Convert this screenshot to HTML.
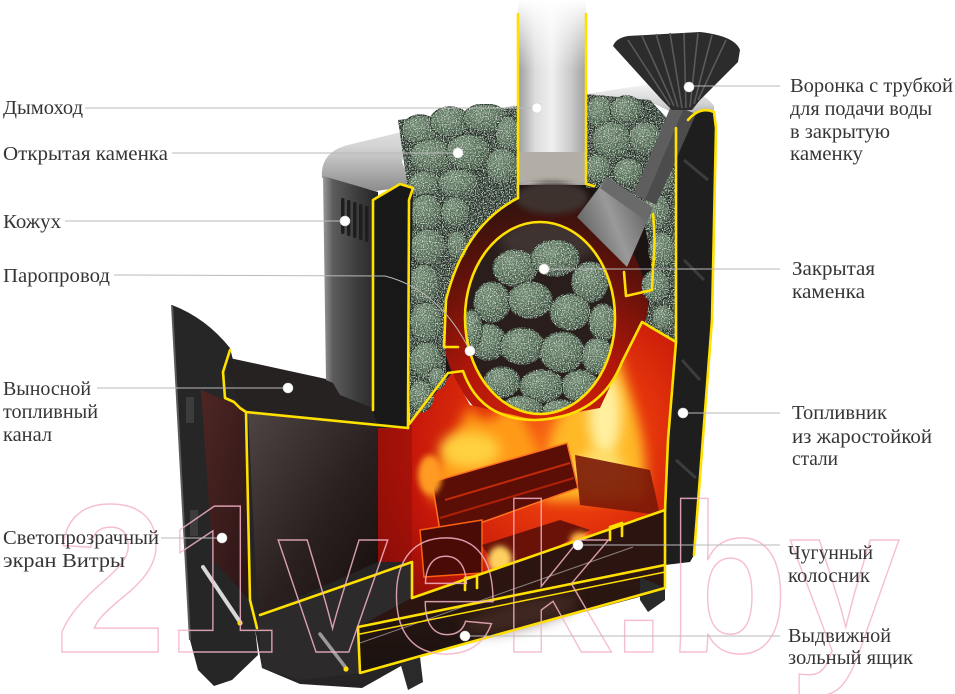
<!DOCTYPE html>
<html><head><meta charset="utf-8">
<style>
html,body{margin:0;padding:0;background:#fff;width:955px;height:694px;overflow:hidden;}
svg{display:block;}
.t{font-family:"Liberation Serif","DejaVu Serif",serif;font-size:20px;fill:#353535;}
.l{stroke:#b9b9b9;stroke-width:1;fill:none;}
.d{fill:#fff;stroke:#d0d0d0;stroke-width:0.6;}
.y{fill:none;stroke:#ffe000;stroke-width:2.6;stroke-linejoin:round;stroke-linecap:round;}
.s{fill:url(#sg);stroke:#223024;stroke-width:1.4;}
</style></head><body>
<svg width="955" height="694" viewBox="0 0 955 694" xmlns="http://www.w3.org/2000/svg">
<defs>
<linearGradient id="pipe" x1="0" x2="1" y1="0" y2="0">
<stop offset="0" stop-color="#9c9c9c"/><stop offset="0.25" stop-color="#dcdcdc"/><stop offset="0.5" stop-color="#f0f0f0"/><stop offset="0.78" stop-color="#cacaca"/><stop offset="1" stop-color="#a0a0a0"/>
</linearGradient>
<linearGradient id="fade" x1="0" x2="0" y1="0" y2="1">
<stop offset="0" stop-color="#fff" stop-opacity="1"/><stop offset="1" stop-color="#fff" stop-opacity="0"/>
</linearGradient>
<linearGradient id="lid" x1="0" y1="0" x2="0" y2="1">
<stop offset="0" stop-color="#f4f4f4"/><stop offset="0.5" stop-color="#d2d2d2"/><stop offset="1" stop-color="#8c8c8c"/>
</linearGradient>
<linearGradient id="shroud" x1="0" x2="1" y1="0" y2="0">
<stop offset="0" stop-color="#9a9a9a"/><stop offset="0.18" stop-color="#5c5c5c"/><stop offset="0.6" stop-color="#3e3e3e"/><stop offset="1" stop-color="#262626"/>
</linearGradient>
<radialGradient id="fire" cx="570" cy="440" r="250" gradientUnits="userSpaceOnUse">
<stop offset="0" stop-color="#ff7a18"/><stop offset="0.3" stop-color="#e8380c"/><stop offset="0.65" stop-color="#c4160a"/><stop offset="1" stop-color="#7a0a06"/>
</radialGradient>
<radialGradient id="arch" cx="545" cy="430" r="240" gradientUnits="userSpaceOnUse">
<stop offset="0" stop-color="#d8260c"/><stop offset="0.4" stop-color="#b0160a"/><stop offset="0.75" stop-color="#5a120a"/><stop offset="1" stop-color="#2a1410"/>
</radialGradient>
<linearGradient id="chan" x1="0" y1="0" x2="1" y2="1">
<stop offset="0" stop-color="#4e4444"/><stop offset="0.55" stop-color="#2a2020"/><stop offset="1" stop-color="#160c0a"/>
</linearGradient>
<linearGradient id="glass" x1="0" y1="0" x2="1" y2="1">
<stop offset="0" stop-color="#4e2624"/><stop offset="1" stop-color="#2a1414"/>
</linearGradient>
<linearGradient id="cyl" x1="577" y1="240" x2="653" y2="210" gradientUnits="userSpaceOnUse">
<stop offset="0" stop-color="#5a5a5a"/><stop offset="0.5" stop-color="#9a9a9a"/><stop offset="1" stop-color="#5e5e5e"/>
</linearGradient>
<linearGradient id="ash" x1="0" y1="0" x2="0" y2="1">
<stop offset="0" stop-color="#3a1a12"/><stop offset="1" stop-color="#1a1210"/>
</linearGradient>
<radialGradient id="sg" cx="0.38" cy="0.32" r="0.75">
<stop offset="0" stop-color="#6e886f"/><stop offset="0.6" stop-color="#4c664e"/><stop offset="1" stop-color="#2e4232"/>
</radialGradient>
<filter id="speck" x="0" y="0" width="100%" height="100%">
<feTurbulence type="fractalNoise" baseFrequency="0.85" numOctaves="2" seed="4" result="n"/>
<feColorMatrix in="n" type="matrix" values="0 0 0 0 0.8  0 0 0 0 0.87  0 0 0 0 0.8  0 0 0 3.2 -1.55" result="s"/>
<feComposite in="s" in2="SourceGraphic" operator="in" result="sp"/>
<feMerge><feMergeNode in="SourceGraphic"/><feMergeNode in="sp"/></feMerge>
</filter>
<filter id="b3" x="-50%" y="-50%" width="200%" height="200%"><feGaussianBlur stdDeviation="3"/></filter>
<filter id="b6" x="-50%" y="-50%" width="200%" height="200%"><feGaussianBlur stdDeviation="6"/></filter>
<clipPath id="inner"><ellipse cx="540" cy="318" rx="75" ry="96"/></clipPath>
<clipPath id="fb"><polygon points="378,425 410,425 452,373 470,405 535,420 600,408 640,323 676,342 668,440 665,510 412,598 412,562 378,562"/></clipPath>
</defs>

<!-- DOOR -->
<path d="M172,305 Q206,318 230,348 L246,412 L252,600 L258,655 L232,680 L214,686 L198,670 L190,640 Z" fill="#262626"/>
<path d="M172,305 L190,640" stroke="#5a5a5a" stroke-width="2" fill="none"/>
<polygon points="201,390 243,408 252,603 213,560" fill="url(#glass)"/>
<rect x="186" y="397" width="8" height="26" fill="#3c3c3c"/>
<rect x="190" y="510" width="8" height="26" fill="#3c3c3c"/>

<!-- LOWER BACKING -->
<polygon points="246,410 412,428 412,600 665,510 665,588 417,657 362,688 300,684 262,668 250,600" fill="#262424"/>

<!-- CHANNEL -->
<polygon points="225,357 340,382 377,395 377,410 408,428 246,412 238,400 228,372" fill="#262222"/>
<polygon points="248,413 378,427 378,562 258,615" fill="url(#chan)"/>
<polygon points="258,615 412,562 412,598 358,627 360,673 300,680 262,668" fill="#2c2a2a"/>

<!-- ASH BOX -->
<polygon points="358,627 412,598 665,510 665,590 417,657 360,673" fill="url(#ash)"/>
<polygon points="412,598 665,510 665,565 358,627" fill="#2c1510"/>
<ellipse cx="520" cy="615" rx="60" ry="14" fill="#5a3a30" opacity="0.5" filter="url(#b6)" transform="rotate(-14 520 615)"/>
<line x1="360" y1="643" x2="633" y2="547" stroke="#8a8080" stroke-width="1"/>
<!-- legs -->
<polygon points="640,577 665,588 665,600 648,612 640,600" fill="#2a2a2a"/>
<polygon points="400,662 420,657 423,682 408,690" fill="#2a2a2a"/>

<!-- HEATER BACK -->
<polygon points="408,185 520,150 586,150 676,125 676,342 640,323 452,373 410,425" fill="#1c1412"/>

<!-- RED -->
<ellipse cx="545" cy="318" rx="104" ry="122" fill="url(#arch)"/>
<polygon points="378,425 410,425 452,373 470,405 535,420 600,408 640,323 676,342 668,440 665,510 412,598 412,562 378,562" fill="url(#fire)"/>
<polygon points="378,425 412,425 412,562 378,562" fill="#8a0e08" opacity="0.5"/>

<!-- FIRE -->
<g clip-path="url(#fb)">
<path d="M430,500 C432,460 455,440 470,405 C480,430 500,420 515,395 C525,430 545,445 548,495 Z" fill="#ff9a18" filter="url(#b6)"/>
<path d="M545,500 C540,440 565,410 585,360 C592,395 605,380 618,350 C628,400 650,430 645,500 Z" fill="#ffb828" filter="url(#b6)"/>
<ellipse cx="605" cy="415" rx="16" ry="42" fill="#fff0a0" filter="url(#b6)"/>
<ellipse cx="470" cy="450" rx="30" ry="18" fill="#ffd040" filter="url(#b6)"/>
<ellipse cx="600" cy="470" rx="24" ry="20" fill="#ffe070" filter="url(#b6)"/>
<polygon points="432,482 567,443 578,488 441,537" fill="#5a0e06" stroke="#ff7020" stroke-width="1.5"/>
<line x1="445" y1="500" x2="570" y2="463" stroke="#c02a0a" stroke-width="2"/>
<line x1="440" y1="518" x2="574" y2="478" stroke="#b02008" stroke-width="2"/>
<polygon points="420,530 482,520 482,573 424,577" fill="#4a0a05" stroke="#ff6010" stroke-width="1.5"/>
<polygon points="575,455 650,470 660,515 580,505" fill="#7a1808" opacity="0.9"/>
<polygon points="482,545 560,520 590,530 500,575" fill="#6a1208"/>
<ellipse cx="500" cy="560" rx="12" ry="14" fill="#ffd060" filter="url(#b3)"/>
<ellipse cx="580" cy="540" rx="10" ry="8" fill="#ffb040" filter="url(#b3)"/>
<ellipse cx="430" cy="475" rx="12" ry="20" fill="#ff9a20" filter="url(#b3)"/>
</g>

<!-- LIDS -->
<path d="M322,178 Q320,152 348,145 L518,104 L518,120 L430,136 Q404,144 402,162 L412,186 L376,191 Z" fill="url(#lid)"/>
<path d="M586,94 L650,84 Q700,86 714,106 L714,124 L690,121 L655,104 L586,110 Z" fill="url(#lid)"/>

<!-- STONES: top-left pile + left column -->
<g filter="url(#speck)">
<path d="M398,120 L518,106 L518,198 Q462,228 446,300 L446,372 L410,423 L408,190 Z" fill="#243226"/>
<ellipse class="s" cx="420" cy="130" rx="18" ry="15"/>
<ellipse class="s" cx="450" cy="122" rx="20" ry="15"/>
<ellipse class="s" cx="485" cy="118" rx="22" ry="14"/>
<ellipse class="s" cx="508" cy="134" rx="12" ry="18"/>
<ellipse class="s" cx="432" cy="156" rx="22" ry="17"/>
<ellipse class="s" cx="468" cy="152" rx="22" ry="18"/>
<ellipse class="s" cx="502" cy="166" rx="16" ry="18"/>
<ellipse class="s" cx="424" cy="184" rx="16" ry="13"/>
<ellipse class="s" cx="458" cy="183" rx="20" ry="14"/>
<ellipse class="s" cx="426" cy="212" rx="16" ry="18"/>
<ellipse class="s" cx="455" cy="212" rx="14" ry="15"/>
<ellipse class="s" cx="428" cy="247" rx="18" ry="18"/>
<ellipse class="s" cx="457" cy="245" rx="10" ry="14"/>
<ellipse class="s" cx="424" cy="284" rx="15" ry="20"/>
<ellipse class="s" cx="426" cy="322" rx="16" ry="20"/>
<ellipse class="s" cx="426" cy="360" rx="16" ry="18"/>
<ellipse class="s" cx="421" cy="396" rx="12" ry="16"/>
<ellipse class="s" cx="437" cy="378" rx="9" ry="11"/>
</g>
<!-- right pile + column -->
<g filter="url(#speck)">
<path d="M586,94 L650,100 L676,128 L676,342 L645,322 Q654,290 650,250 L640,205 L600,188 L586,188 Z" fill="#243226"/>
<ellipse class="s" cx="600" cy="112" rx="14" ry="16"/>
<ellipse class="s" cx="626" cy="110" rx="16" ry="14"/>
<ellipse class="s" cx="612" cy="140" rx="20" ry="18"/>
<ellipse class="s" cx="645" cy="138" rx="16" ry="16"/>
<ellipse class="s" cx="598" cy="168" rx="13" ry="14"/>
<ellipse class="s" cx="628" cy="172" rx="15" ry="14"/>
<ellipse class="s" cx="660" cy="178" rx="14" ry="16"/>
<ellipse class="s" cx="656" cy="212" rx="14" ry="18"/>
<ellipse class="s" cx="662" cy="250" rx="13" ry="18"/>
<ellipse class="s" cx="656" cy="286" rx="14" ry="16"/>
<ellipse class="s" cx="663" cy="318" rx="11" ry="13"/>
</g>

<!-- INNER CLOSED HEATER -->
<ellipse cx="540" cy="318" rx="75" ry="96" fill="#2a1e1c"/>
<g clip-path="url(#inner)">
<ellipse cx="550" cy="240" rx="50" ry="22" fill="#4a3c3a" opacity="0.7" filter="url(#b6)"/>
<g filter="url(#speck)">
<ellipse class="s" cx="515" cy="268" rx="22" ry="18"/>
<ellipse class="s" cx="555" cy="258" rx="24" ry="18"/>
<ellipse class="s" cx="590" cy="282" rx="18" ry="20"/>
<ellipse class="s" cx="492" cy="302" rx="18" ry="20"/>
<ellipse class="s" cx="530" cy="300" rx="22" ry="18"/>
<ellipse class="s" cx="570" cy="312" rx="20" ry="18"/>
<ellipse class="s" cx="603" cy="322" rx="14" ry="18"/>
<ellipse class="s" cx="488" cy="342" rx="18" ry="18"/>
<ellipse class="s" cx="522" cy="346" rx="22" ry="18"/>
<ellipse class="s" cx="562" cy="352" rx="22" ry="20"/>
<ellipse class="s" cx="598" cy="356" rx="16" ry="18"/>
<ellipse class="s" cx="502" cy="382" rx="18" ry="15"/>
<ellipse class="s" cx="542" cy="386" rx="22" ry="16"/>
<ellipse class="s" cx="580" cy="386" rx="18" ry="16"/>
<ellipse class="s" cx="522" cy="408" rx="20" ry="12"/>
<ellipse class="s" cx="560" cy="410" rx="18" ry="10"/>
<ellipse class="s" cx="472" cy="330" rx="10" ry="20"/>
</g>
</g>

<!-- PIPE -->
<rect x="518" y="0" width="68" height="185" fill="url(#pipe)"/>
<rect x="518" y="152" width="68" height="30" fill="#b2aea6"/>
<ellipse cx="552" cy="198" rx="36" ry="16" fill="#3e302e" filter="url(#b3)"/>
<rect x="505" y="0" width="95" height="70" fill="url(#fade)"/>

<!-- SHROUD -->
<path d="M323,176 L378,192 L378,410 L340,395 L333,383 L326,380 Z" fill="url(#shroud)"/>
<g fill="#1e1e1e">
<rect x="341" y="198" width="3.5" height="36" rx="1.5"/>
<rect x="347" y="200" width="3.5" height="36" rx="1.5"/>
<rect x="353" y="202" width="3.5" height="36" rx="1.5"/>
<rect x="359" y="204" width="3.5" height="36" rx="1.5"/>
<rect x="365" y="206" width="3.5" height="36" rx="1.5"/>
</g>

<!-- LEFT WALL -->
<polygon points="373,200 400,184 413,188 408,428 378,428 373,410" fill="#181818"/>

<!-- RIGHT WALL -->
<path d="M676,128 L688,120 Q700,106 714,112 L716,128 L712,320 L694,555 L690,562 L665,565 L665,510 L668,440 L676,342 Z" fill="#1e1e1e"/>
<path d="M684,160 L708,180 M684,260 L704,280 M682,360 L700,380 M676,460 L696,478" stroke="#3c3c3c" stroke-width="3"/>

<!-- TUBE, CYLINDER, FUNNEL -->
<polygon points="672,104 696,114 656,205 634,194" fill="#4c4c4c"/>
<polygon points="672,104 683,110 645,200 634,194" fill="#5e5e5e"/>
<polygon points="577,217 607,177 653,208 627,267" fill="url(#cyl)"/>
<polygon points="607,177 653,208 645,220 600,188" fill="#6a6a6a"/>
<path d="M613,46 Q616,38 628,36 L700,32 Q735,36 740,50 L738,62 L700,100 L692,110 L672,110 L662,100 Z" fill="#2c2c2c"/>
<g stroke="#5a5a5a" stroke-width="1.6">
<line x1="628" y1="40" x2="670" y2="105"/>
<line x1="642" y1="36" x2="674" y2="106"/>
<line x1="656" y1="34" x2="678" y2="107"/>
<line x1="670" y1="33" x2="682" y2="108"/>
<line x1="684" y1="33" x2="686" y2="108"/>
<line x1="698" y1="33" x2="690" y2="107"/>
<line x1="712" y1="35" x2="694" y2="104"/>
<line x1="726" y1="40" x2="698" y2="100"/>
</g>

<!-- YELLOW OUTLINES -->
<g class="y">
<path d="M373,410 L373,200 L400,184 L413,188 L409,200 L408,428"/>
<path d="M246,412 L408,428"/>
<path d="M230,350 L223,372 L225,398 L234,402 L240,408 L246,412 L250,600 L257,628"/>
<path d="M260,615 L412,562 L412,598"/>
<path d="M412,598 L665,510"/>
<path d="M358,627 L665,565"/>
<path d="M360,634 L665,572" stroke-width="1.5"/>
<path d="M358,627 L360,673 L417,657 L665,588 L665,510"/>
<path d="M465,590 L465,578 L477,576 L477,588"/>
<path d="M610,540 L610,527 L622,523 L622,536"/>
<path d="M676,128 L676,342 L668,440 L665,510"/>
<path d="M688,120 Q700,106 714,112 L716,128 L712,320 L694,555"/>
<path d="M518,14 L518,198"/>
<path d="M586,14 L586,184 L594,186"/>
<path d="M518,198 Q464,226 446,300 L444,347 L458,347"/>
<path d="M410,423 L448,373 L463,371 Q480,420 535,420 Q600,418 622,362 L642,322 L676,342"/>
<ellipse cx="540" cy="318" rx="75" ry="96"/>
<path d="M653,214 Q656,240 653,268 L652,290 L626,296 L624,272"/>
</g>

<!-- HANDLES -->
<line x1="203" y1="567" x2="240" y2="622" stroke="#d8d8d8" stroke-width="4" stroke-linecap="round"/>
<circle cx="240" cy="623" r="2.6" fill="#ffe000"/>
<line x1="320" y1="634" x2="346" y2="668" stroke="#9a9a9a" stroke-width="3.5" stroke-linecap="round"/>
<circle cx="346" cy="669" r="2.6" fill="#ffe000"/>

<!-- WATERMARK -->
<text x="55" y="652" font-family="Liberation Sans, sans-serif" font-weight="bold" font-size="212" fill="none" stroke="#f5b4c6" stroke-width="1.5" textLength="845" lengthAdjust="spacingAndGlyphs" opacity="0.85">21vek.by</text>

<!-- LEADER LINES -->
<g class="l">
<line x1="85" y1="108" x2="537" y2="108"/>
<line x1="172" y1="153" x2="458" y2="153"/>
<line x1="65" y1="221" x2="345" y2="221"/>
<path d="M114,275 L385,276 Q440,290 470,351"/>
<line x1="97" y1="388" x2="288" y2="388"/>
<line x1="161" y1="538" x2="222" y2="538"/>
<line x1="689" y1="86" x2="780" y2="86"/>
<line x1="544" y1="269" x2="780" y2="269"/>
<line x1="683" y1="413" x2="780" y2="413"/>
<line x1="578" y1="545" x2="780" y2="545"/>
<line x1="465" y1="636" x2="780" y2="636"/>
</g>
<g class="d">
<circle cx="537" cy="108" r="5"/>
<circle cx="458" cy="153" r="5"/>
<circle cx="345" cy="221" r="5"/>
<circle cx="470" cy="351" r="5"/>
<circle cx="288" cy="388" r="5"/>
<circle cx="222" cy="538" r="5"/>
<circle cx="689" cy="87" r="5"/>
<circle cx="544" cy="269" r="5"/>
<circle cx="683" cy="413" r="5"/>
<circle cx="578" cy="545" r="5"/>
<circle cx="465" cy="636" r="5"/>
</g>

<!-- LABELS -->
<g class="t">
<text x="3" y="114" textLength="80" lengthAdjust="spacingAndGlyphs">Дымоход</text>
<text x="3" y="160" textLength="165" lengthAdjust="spacingAndGlyphs">Открытая каменка</text>
<text x="3" y="228" textLength="58" lengthAdjust="spacingAndGlyphs">Кожух</text>
<text x="3" y="282" textLength="107" lengthAdjust="spacingAndGlyphs">Паропровод</text>
<text x="3" y="395" textLength="88" lengthAdjust="spacingAndGlyphs">Выносной</text>
<text x="3" y="418" textLength="95" lengthAdjust="spacingAndGlyphs">топливный</text>
<text x="3" y="441" textLength="49" lengthAdjust="spacingAndGlyphs">канал</text>
<text x="3" y="544" textLength="156" lengthAdjust="spacingAndGlyphs">Светопрозрачный</text>
<text x="3" y="567" textLength="122" lengthAdjust="spacingAndGlyphs">экран Витры</text>

<text x="790" y="92" textLength="163" lengthAdjust="spacingAndGlyphs">Воронка с трубкой</text>
<text x="790" y="115" textLength="142" lengthAdjust="spacingAndGlyphs">для подачи воды</text>
<text x="790" y="138" textLength="100" lengthAdjust="spacingAndGlyphs">в закрытую</text>
<text x="790" y="160" textLength="73" lengthAdjust="spacingAndGlyphs">каменку</text>
<text x="792" y="275" textLength="83" lengthAdjust="spacingAndGlyphs">Закрытая</text>
<text x="792" y="298" textLength="73" lengthAdjust="spacingAndGlyphs">каменка</text>
<text x="792" y="419" textLength="95" lengthAdjust="spacingAndGlyphs">Топливник</text>
<text x="792" y="443" textLength="140" lengthAdjust="spacingAndGlyphs">из жаростойкой</text>
<text x="792" y="465" textLength="46" lengthAdjust="spacingAndGlyphs">стали</text>
<text x="788" y="559" textLength="85" lengthAdjust="spacingAndGlyphs">Чугунный</text>
<text x="788" y="582" textLength="82" lengthAdjust="spacingAndGlyphs">колосник</text>
<text x="788" y="642" textLength="103" lengthAdjust="spacingAndGlyphs">Выдвижной</text>
<text x="788" y="664" textLength="125" lengthAdjust="spacingAndGlyphs">зольный ящик</text>
</g>
</svg>
</body></html>
